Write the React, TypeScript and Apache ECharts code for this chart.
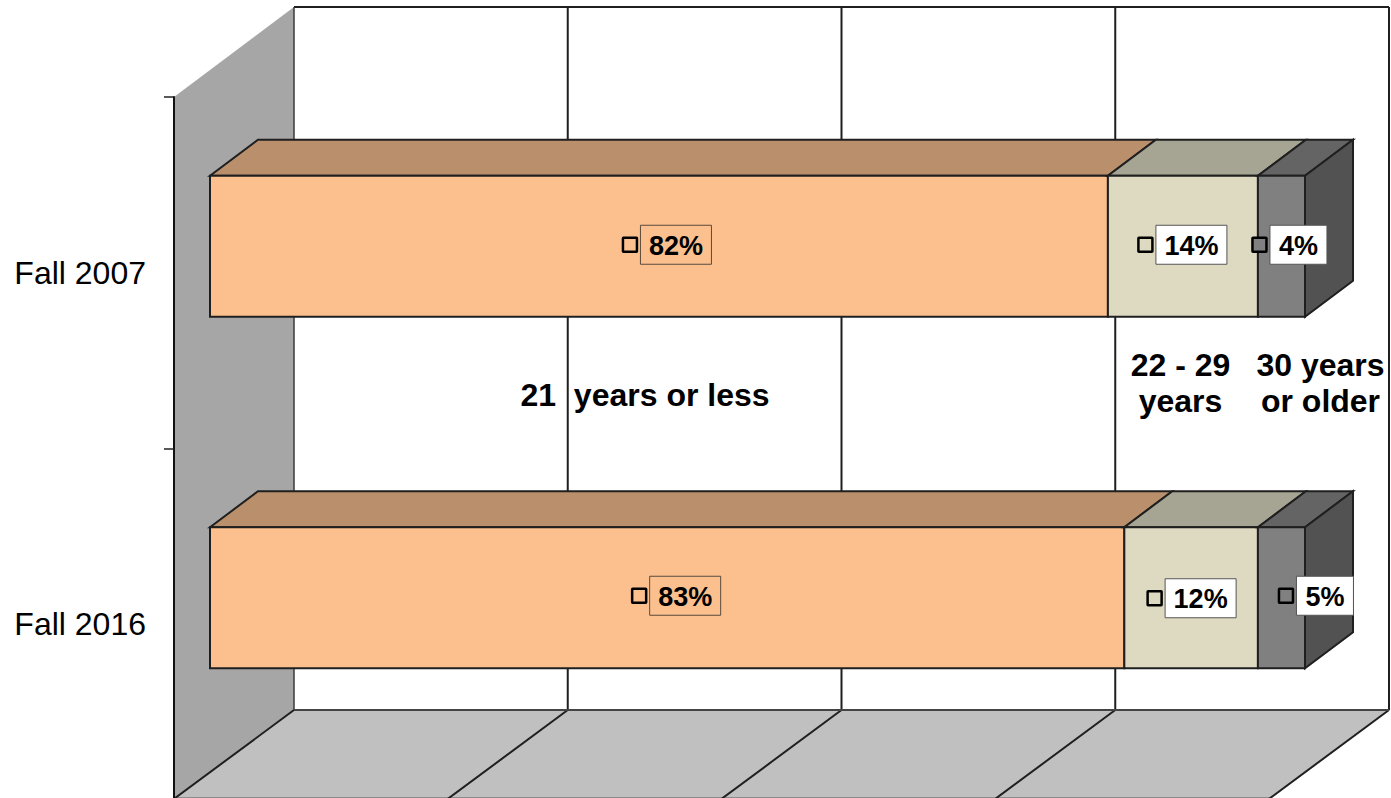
import React, { useEffect, useRef } from "react";
import * as echarts from "echarts";

const categories = ["Fall 2007", "Fall 2016"];
const ageGroups = ["21 years or less", "22 - 29 years", "30 years or older"];
const under22 = [82, 83.5];
const age22to29 = [13.7, 12.2];
const age30plus = [4.3, 4.3];
const labelsUnder22 = ["82%", "83%"];
const labels22to29 = ["14%", "12%"];
const labels30plus = ["4%", "5%"];
const valueTicks = [0, 25, 50, 75, 100];

const FONT = "'Liberation Sans', Arial, sans-serif";
const DEPTH_X = 120;
const DEPTH_Y = -90;
const BAR_X = 36;
const BAR_Y = -26.5;
const BAR_DX = 48;
const BAR_DY = -36;
const BAR_HALF = 70.5;
const LINE = "#1f1f1f";

const palettes = [
  { front: "#fcc08e", top: "#ba8f6c" },
  { front: "#dedac2", top: "#a6a492" },
  { front: "#808080", top: "#646464" },
];
const SIDE = "#525252";

// horizontal and vertical shift of each label box from the middle of its bar segment
const labelShiftX = [
  [17, 18],
  [8.5, 9.5],
  [17, 43.5],
];
const labelShiftY = [
  [-1.5, -2],
  [-1.5, 0.5],
  [-1.5, -2],
];

function poly(points: number[][], fill: string, stroke = LINE, lineWidth = 2) {
  return {
    type: "polygon",
    shape: { points },
    style: { fill, stroke, lineWidth, lineJoin: "miter" },
  };
}

function line(x1: number, y1: number, x2: number, y2: number, stroke = LINE, lineWidth = 2) {
  return { type: "line", shape: { x1, y1, x2, y2 }, style: { stroke, lineWidth } };
}

function renderWalls(params: any, api: any) {
  const cs = params.coordSys;
  const top = cs.y;
  const bottom = cs.y + cs.height;
  const left = cs.x;
  const backTop = top + DEPTH_Y;
  const backBottom = bottom + DEPTH_Y;
  const xs = valueTicks.map((v) => api.coord([v, 0])[0]);
  const children: any[] = [];
  children.push({
    type: "polygon",
    shape: {
      points: [
        [left + DEPTH_X, backTop],
        [xs[4] + DEPTH_X, backTop],
        [xs[4] + DEPTH_X, backBottom],
        [left + DEPTH_X, backBottom],
      ],
    },
    style: { fill: "#ffffff" },
  });
  children.push({
    type: "polygon",
    shape: {
      points: [
        [left, top],
        [left + DEPTH_X, backTop],
        [left + DEPTH_X, backBottom],
        [left, bottom],
      ],
    },
    style: { fill: "#a6a6a6" },
  });
  children.push({
    type: "polygon",
    shape: {
      points: [
        [left, bottom],
        [left + DEPTH_X, backBottom],
        [xs[4] + DEPTH_X, backBottom],
        [xs[4], bottom],
      ],
    },
    style: { fill: "#c0c0c0" },
  });
  children.push(line(left + DEPTH_X, backTop, xs[4] + DEPTH_X, backTop, LINE, 2));
  children.push(line(left, bottom - 2.5, xs[4] + 3, bottom - 2.5, "#8c8c8c", 1));
  xs.forEach((x, i) => {
    const w = i === 0 ? 1.5 : 2;
    children.push(line(x + DEPTH_X, backTop, x + DEPTH_X, backBottom, i === 0 ? "#3a3a3a" : LINE, w));
    children.push(line(x + DEPTH_X, backBottom, x - 1.5, bottom, LINE, 2));
  });
  children.push(line(left + DEPTH_X, backBottom, xs[4] + DEPTH_X, backBottom, "#444444", 2));
  return { type: "group", children };
}

function renderSegment(seriesIndex: number, isLast: boolean) {
  return (params: any, api: any) => {
    const row = api.value(2);
    const a = api.coord([api.value(0), row]);
    const b = api.coord([api.value(1), row]);
    const xa = a[0] + BAR_X;
    const xb = b[0] + BAR_X;
    const yc = a[1] + BAR_Y;
    const yt = yc - BAR_HALF;
    const yb = yc + BAR_HALF;
    const pal = palettes[seriesIndex];
    const children: any[] = [];
    children.push(
      poly(
        [
          [xa, yt],
          [xa + BAR_DX, yt + BAR_DY],
          [xb + BAR_DX, yt + BAR_DY],
          [xb, yt],
        ],
        pal.top
      )
    );
    if (isLast) {
      children.push(
        poly(
          [
            [xb, yt],
            [xb + BAR_DX, yt + BAR_DY],
            [xb + BAR_DX, yb + BAR_DY],
            [xb, yb],
          ],
          SIDE
        )
      );
    }
    children.push(
      poly(
        [
          [xa, yt],
          [xb, yt],
          [xb, yb],
          [xa, yb],
        ],
        pal.front
      )
    );
    return { type: "group", children };
  };
}

function renderLabel(seriesIndex: number, labels: string[]) {
  return (params: any, api: any) => {
    const row = api.value(2);
    const a = api.coord([api.value(0), row]);
    const b = api.coord([api.value(1), row]);
    const mid = (a[0] + b[0]) / 2 + BAR_X;
    const cx = mid + labelShiftX[seriesIndex][row];
    const cy = a[1] + BAR_Y + labelShiftY[seriesIndex][row];
    const text = labels[row];
    const w = text.length === 3 ? 71 : 57;
    const h = 39;
    const pal = palettes[seriesIndex];
    const boxFill = seriesIndex === 0 ? pal.front : "#ffffff";
    const boxLeft = cx - w / 2;
    const markerX = boxLeft - 10.5;
    return {
      type: "group",
      children: [
        {
          type: "rect",
          shape: { x: boxLeft, y: cy - h / 2, width: w, height: h },
          style: { fill: boxFill, stroke: seriesIndex === 0 ? "#5a4a3c" : "#555555", lineWidth: 1 },
        },
        {
          type: "text",
          style: {
            x: cx,
            y: cy + 1,
            text,
            align: "center",
            verticalAlign: "middle",
            fill: "#000000",
            fontFamily: FONT,
            fontWeight: "bold",
            fontSize: 27,
          },
        },
        {
          type: "rect",
          shape: { x: markerX - 7, y: cy - 7, width: 14, height: 14, r: 0.5 },
          style: { fill: pal.front, stroke: "#000000", lineWidth: 2.5 },
        },
      ],
    };
  };
}

function groupText(x: number, y: number, text: string) {
  return {
    type: "text",
    z: 100,
    x,
    y,
    style: {
      text,
      fill: "#000000",
      align: "center",
      verticalAlign: "middle",
      fontFamily: FONT,
      fontWeight: "bold",
      fontSize: 32,
      lineHeight: 36,
    },
  };
}

export default function App() {
  const ref = useRef<HTMLDivElement>(null);
  useEffect(() => {
    document.body.style.margin = "0";
    document.body.style.overflow = "hidden";
    const chart = echarts.init(ref.current!, null, { renderer: "svg" });
    const columns = [under22, age22to29, age30plus];
    const starts = categories.map(() => 0);
    const segData = columns.map((col) =>
      col.map((v, row) => {
        const item = [starts[row], starts[row] + v, row];
        starts[row] += v;
        return item;
      })
    );
    const labelSets = [labelsUnder22, labels22to29, labels30plus];
    const series: any[] = [
      {
        type: "custom",
        name: "walls",
        coordinateSystem: "cartesian2d",
        data: [[0, 0, 0]],
        encode: { x: [0, 1], y: 2 },
        renderItem: renderWalls,
        clip: false,
        silent: true,
        z: 1,
      },
    ];
    segData.forEach((data, i) => {
      series.push({
        type: "custom",
        name: ageGroups[i],
        coordinateSystem: "cartesian2d",
        data,
        encode: { x: [0, 1], y: 2 },
        renderItem: renderSegment(i, i === segData.length - 1),
        clip: false,
        z: 4 + i,
      });
    });
    segData.forEach((data, i) => {
      series.push({
        type: "custom",
        name: ageGroups[i] + " labels",
        coordinateSystem: "cartesian2d",
        data,
        encode: { x: [0, 1], y: 2 },
        renderItem: renderLabel(i, labelSets[i]),
        clip: false,
        z: 10 + i,
      });
    });
    chart.setOption({
      animation: false,
      backgroundColor: "#ffffff",
      grid: { left: 174, top: 97, width: 1095, height: 703, containLabel: false },
      xAxis: { type: "value", min: 0, max: 100, interval: 25, show: false },
      yAxis: {
        type: "category",
        data: categories,
        inverse: true,
        z: 3,
        axisLine: { show: true, lineStyle: { color: "#111111", width: 2 } },
        axisTick: { show: true, length: 10, alignWithLabel: false, lineStyle: { color: "#222222", width: 1.5 } },
        axisLabel: { margin: 28, color: "#000000", fontFamily: FONT, fontSize: 32 },
        splitLine: { show: false },
      },
      graphic: {
        elements: [
          groupText(645, 395, "21  years or less"),
          groupText(1180.5, 383, "22 - 29\nyears"),
          groupText(1320.5, 383, "30 years\nor older"),
        ],
      },
      series,
    });
    return () => chart.dispose();
  }, []);
  return (
    <div style={{ width: 1391, height: 798, overflow: "hidden" }}>
      <div ref={ref} style={{ width: 1391, height: 804 }} />
    </div>
  );
}
